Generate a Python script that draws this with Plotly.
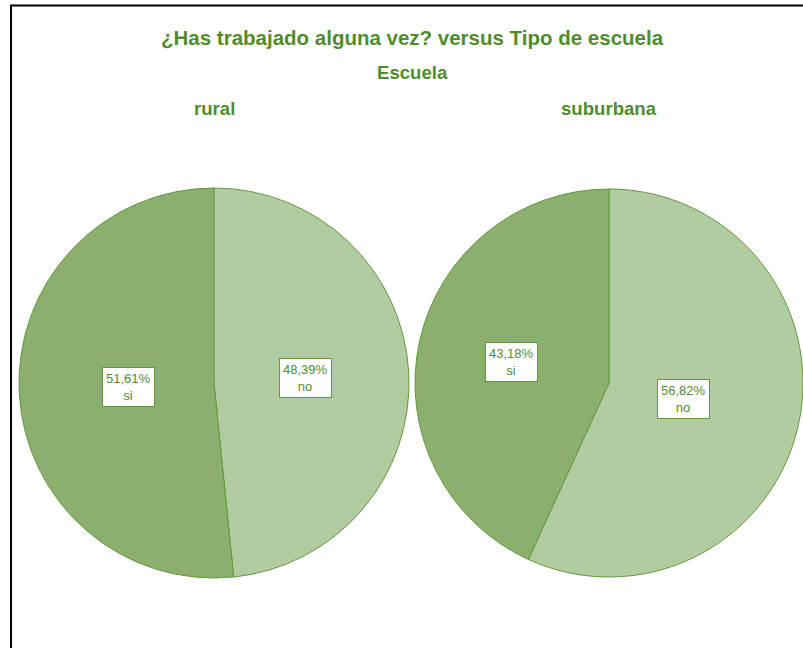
import math
import plotly.graph_objects as go

# ---- data ----
groups = ["rural", "suburbana"]
categories = ["si", "no"]
pct_rural = [51.61, 48.39]
pct_suburbana = [43.18, 56.82]
values = [pct_rural, pct_suburbana]

title_text = "¿Has trabajado alguna vez? versus Tipo de escuela"
legend_title = "Escuela"

W, H = 803, 648
FONT = "Liberation Sans, Arial, sans-serif"
green_text = "#4F8D2C"
line_green = "#62993E"
slice_colors = ["#8BAF6E", "#B3CBA1"]  # si, no

# pie geometry (pixels)
pie_boxes = [(19, 409, 188, 578), (415, 803, 188, 578)]

fig = go.Figure()
annotations = []
for g, vals, (x0, x1, y0, y1) in zip(groups, values, pie_boxes):
    # plotly puts the first slice to the right of 12 o'clock; reverse so "si" sits on the left
    fig.add_trace(go.Pie(
        labels=categories[::-1], values=vals[::-1], sort=False, direction="clockwise",
        rotation=0, textinfo="none", hoverinfo="label+percent",
        marker=dict(colors=slice_colors[::-1], line=dict(color=line_green, width=1)),
        domain=dict(x=[x0 / W, min(x1 / W, 1)], y=[1 - y1 / H, 1 - y0 / H]),
        showlegend=False,
    ))
    w, h = min(x1, W) - x0, y1 - y0
    R = min(w, h) / 2
    cx, cy = (x0 + min(x1, W)) / 2, (y0 + y1) / 2
    total = sum(vals)
    start = 0.0
    for cat, v in zip(categories, vals):
        frac = v / total
        mid = start + frac * math.pi  # angle ccw from 12 o'clock
        alpha = frac * math.pi
        d = 2 * R * math.sin(alpha) / (3 * alpha) * 1.07
        px = cx - d * math.sin(mid)
        py = cy - d * math.cos(mid)
        start += 2 * frac * math.pi
        label = f"{v:.2f}".replace(".", ",") + "%<br>" + cat
        annotations.append(dict(
            x=px / W, y=1 - py / H, xref="paper", yref="paper",
            xanchor="center", yanchor="middle",
            text=label, showarrow=False, align="center",
            font=dict(family=FONT, size=13, color=green_text),
            bgcolor="white", bordercolor=line_green, borderwidth=1, borderpad=3,
        ))
    annotations.append(dict(
        x=cx / W, y=1 - 109 / H, xref="paper", yref="paper", text=f"<b>{g}</b>",
        xanchor="center", yanchor="middle",
        showarrow=False, font=dict(family=FONT, size=18.6, color=green_text),
    ))

annotations.append(dict(
    x=412 / W, y=1 - 37 / H, xref="paper", yref="paper", text=f"<b>{title_text}</b>",
    xanchor="center", yanchor="middle",
    showarrow=False, font=dict(family=FONT, size=20.5, color=green_text),
))
annotations.append(dict(
    x=413 / W, y=1 - 72 / H, xref="paper", yref="paper", text=f"<b>{legend_title}</b>",
    xanchor="center", yanchor="middle",
    showarrow=False, font=dict(family=FONT, size=18.6, color=green_text),
))

fig.update_layout(
    width=W, height=H, margin=dict(l=0, r=0, t=0, b=0),
    paper_bgcolor="white", plot_bgcolor="white",
    annotations=annotations,
    shapes=[dict(type="path", xref="paper", yref="paper",
                 path=f"M {11/W} -0.1 L {11/W} {1-5.5/H} L 1.1 {1-5.5/H}",
                 line=dict(color="black", width=2))],
)

fig.write_html("out.html", config={"displayModeBar": False},
               post_script="document.body.style.margin='0';document.body.style.overflow='hidden';")
